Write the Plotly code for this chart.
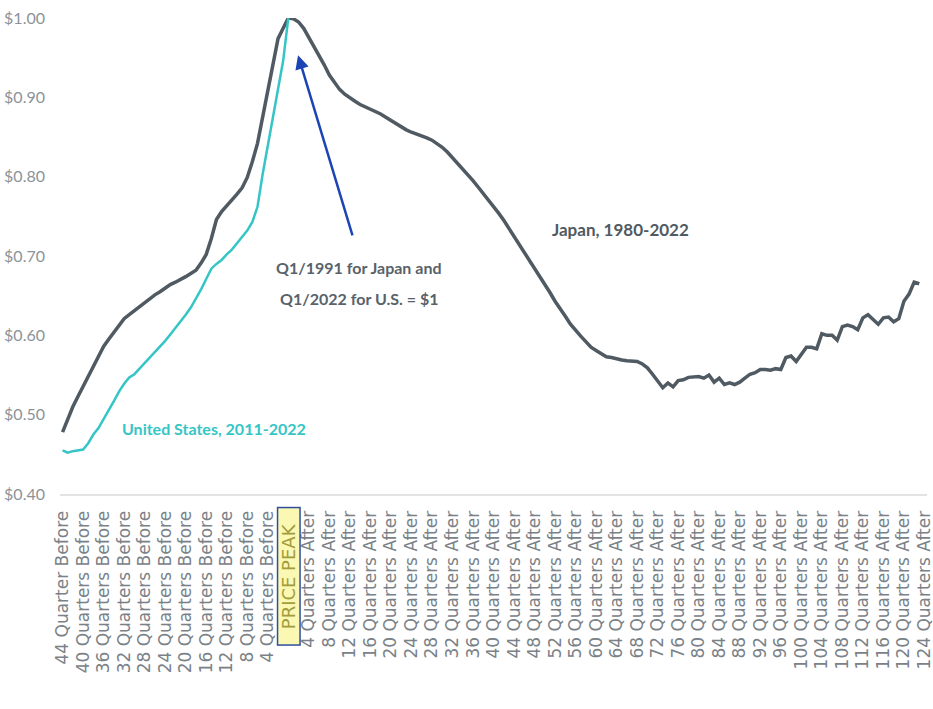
import plotly.graph_objects as go

# Quarter offsets relative to the price peak (negative = before, positive = after)
japan_quarters = list(range(-44, 124))
us_quarters = list(range(-44, 1))

# Real-estate price index, peak quarter = $1.00
japan_values = [
    0.478, 0.494, 0.510, 0.523, 0.536, 0.549, 0.562, 0.575, 0.586, 0.595,
    0.604, 0.612, 0.621, 0.626, 0.631, 0.637, 0.641, 0.646, 0.651, 0.655,
    0.660, 0.664, 0.667, 0.670, 0.674, 0.678, 0.682, 0.691, 0.702, 0.722,
    0.746, 0.756, 0.763, 0.770, 0.778, 0.786, 0.799, 0.819, 0.842, 0.875,
    0.907, 0.941, 0.974, 0.987,
    1.000, 0.999, 0.995, 0.987, 0.976, 0.965, 0.953, 0.941, 0.928, 0.918,
    0.910, 0.904, 0.899, 0.895, 0.891, 0.888, 0.886, 0.882, 0.879, 0.875,
    0.871, 0.866, 0.862, 0.859, 0.856, 0.854, 0.851, 0.849, 0.846, 0.842,
    0.837, 0.831, 0.824, 0.817, 0.809, 0.802, 0.795, 0.787, 0.779, 0.771,
    0.763, 0.754, 0.745, 0.735, 0.726, 0.716, 0.706, 0.696, 0.685, 0.675,
    0.664, 0.654, 0.643, 0.634, 0.624, 0.614, 0.606, 0.599, 0.592, 0.585,
    0.581, 0.577, 0.573, 0.572, 0.570, 0.569, 0.568, 0.568, 0.567, 0.564,
    0.559, 0.551, 0.543, 0.534, 0.540, 0.535, 0.543, 0.544, 0.547, 0.548,
    0.548, 0.546, 0.550, 0.541, 0.546, 0.538, 0.540, 0.538, 0.541, 0.546,
    0.551, 0.553, 0.557, 0.557, 0.556, 0.558, 0.557, 0.572, 0.574, 0.567,
    0.576, 0.585, 0.585, 0.583, 0.602, 0.600, 0.600, 0.594, 0.611, 0.613,
    0.611, 0.607, 0.622, 0.626, 0.620, 0.614, 0.622, 0.623, 0.617, 0.621,
    0.643, 0.652, 0.667, 0.665,
]

us_values = [
    0.455, 0.452, 0.454, 0.455, 0.456, 0.464, 0.475, 0.483, 0.494, 0.506,
    0.517, 0.529, 0.539, 0.547, 0.551, 0.558, 0.565, 0.571, 0.578, 0.586,
    0.593, 0.601, 0.609, 0.617, 0.626, 0.635, 0.646, 0.658, 0.671, 0.684,
    0.690, 0.695, 0.702, 0.708, 0.716, 0.724, 0.732, 0.743, 0.762, 0.803,
    0.839, 0.873, 0.911, 0.946, 1.000,
]

# Category ticks every four quarters
tick_quarters = [-44, -40, -36, -32, -28, -24, -20, -16, -12, -8, -4, 0,
                 4, 8, 12, 16, 20, 24, 28, 32, 36, 40, 44, 48, 52, 56, 60,
                 64, 68, 72, 76, 80, 84, 88, 92, 96, 100, 104, 108, 112,
                 116, 120, 124]
tick_labels = [
    "44 Quarter Before", "40 Quarters Before", "36 Quarters Before",
    "32 Quarters Before", "28 Quarters Before", "24 Quarters Before",
    "20 Quarters Before", "16 Quarters Before", "12 Quarters Before",
    "8 Quarters Before", "4 Quarters Before", "",
    "4 Quarters After", "8 Quarters After", "12 Quarters After",
    "16 Quarters After", "20 Quarters After", "24 Quarters After",
    "28 Quarters After", "32 Quarters After", "36 Quarters After",
    "40 Quarters After", "44 Quarters After", "48 Quarters After",
    "52 Quarters After", "56 Quarters After", "60 Quarters After",
    "64 Quarters After", "68 Quarters After", "72 Quarters After",
    "76 Quarters After", "80 Quarters After", "84 Quarters After",
    "88 Quarters After", "92 Quarters After", "96 Quarters After",
    "100 Quarters After", "104 Quarters After", "108 Quarters After",
    "112 Quarters After", "116 Quarters After", "120 Quarters After",
    "124 Quarters After",
]
peak_label = "PRICE PEAK"

price_ticks = [0.40, 0.50, 0.60, 0.70, 0.80, 0.90, 1.00]
price_labels = ["$0.40", "$0.50", "$0.60", "$0.70", "$0.80", "$0.90", "$1.00"]

JAPAN_COLOR = "#4f5a62"
US_COLOR = "#36c5c6"
TEXT_FONT = "Lato, 'Liberation Sans', sans-serif"
AXIS_FONT = "'DejaVu Sans', sans-serif"

fig = go.Figure()

fig.add_trace(go.Scatter(
    x=japan_quarters, y=japan_values, mode="lines", name="Japan, 1980-2022",
    line=dict(color=JAPAN_COLOR, width=3.5),
))
fig.add_trace(go.Scatter(
    x=us_quarters, y=us_values, mode="lines", name="United States, 2011-2022",
    line=dict(color=US_COLOR, width=2.5),
))

annotations = [
    dict(x=64.7, y=0.733, xref="x", yref="y", showarrow=False,
         text="<b>Japan, 1980-2022</b>",
         font=dict(family=TEXT_FONT, size=17, color=JAPAN_COLOR)),
    dict(x=-14.5, y=0.483, xref="x", yref="y", showarrow=False,
         text="<b>United States, 2011-2022</b>",
         font=dict(family=TEXT_FONT, size=16, color=US_COLOR)),
    dict(x=13.8, y=0.685, xref="x", yref="y", showarrow=False,
         text="<b>Q1/1991 for Japan and</b>",
         font=dict(family=TEXT_FONT, size=16, color="#59626a")),
    dict(x=13.8, y=0.647, xref="x", yref="y", showarrow=False,
         text="<b>Q1/2022 for U.S. = $1</b>",
         font=dict(family=TEXT_FONT, size=16, color="#59626a")),
    # pointer to the peak
    dict(x=1.9, y=0.953, xref="x", yref="y", ax=12.6, ay=0.724,
         axref="x", ayref="y", text="", showarrow=True,
         arrowhead=2, arrowsize=1.1, arrowwidth=2.5, arrowcolor="#1c44b4"),
    # highlighted peak category label
    dict(x=0, y=0, xref="x", yref="paper", xanchor="center", yanchor="top",
         yshift=-13, textangle=-90, showarrow=False, text=peak_label,
         width=136, align="center",
         font=dict(family=AXIS_FONT, size=18, color="#a29c3c"),
         bgcolor="#fbf8b4", bordercolor="#2d4f9e", borderwidth=1.5,
         borderpad=0),
]

fig.update_layout(
    width=933, height=709,
    margin=dict(l=60, r=6, t=18, b=215, autoexpand=False),
    paper_bgcolor="white", plot_bgcolor="white",
    showlegend=False,
    annotations=annotations,
    xaxis=dict(
        range=[-44.5, 124.5], tickmode="array",
        tickvals=tick_quarters, ticktext=tick_labels, tickangle=-90,
        tickfont=dict(family=AXIS_FONT, size=17, color="#7a8288"),
        showgrid=False, zeroline=False, ticks="",
        showline=True, linecolor="#e3e3e3", linewidth=2,
        ticklabelstandoff=8, ticklabeloverflow="allow", automargin=False,
    ),
    yaxis=dict(
        range=[0.40, 1.00], tickmode="array",
        tickvals=price_ticks, ticktext=price_labels,
        tickfont=dict(family=TEXT_FONT, size=16, color="#8c9398"),
        showgrid=False, zeroline=False, showline=False, ticks="",
        ticklabelstandoff=14, automargin=False,
    ),
)

fig.write_html("out.html")
